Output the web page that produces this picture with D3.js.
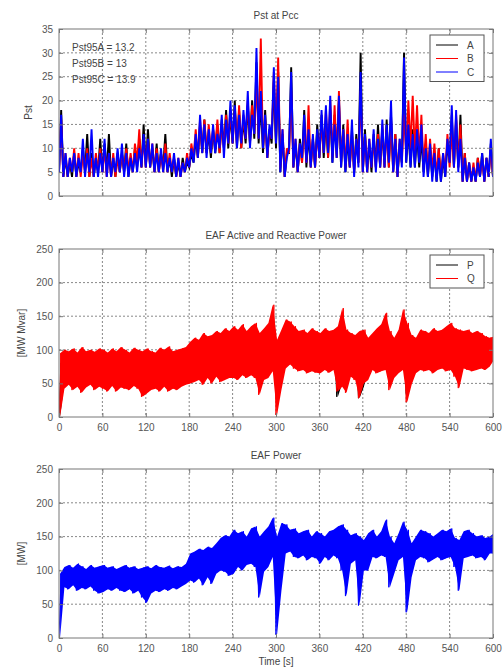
<!DOCTYPE html>
<html>
<head>
<meta charset="utf-8">
<script src="https://cdn.jsdelivr.net/npm/d3@7"></script>
<style>
  body { margin: 0; background: #fff; }
  text { font-family: "Liberation Sans", Arial, sans-serif; fill: #444; }
</style>
</head>
<body>
<svg id="chart" width="503" height="670"></svg>
<script>
// samples every 6 s: low value at t, high value at t + 3 s
const timeStep = 6;
const timeTicks = [0, 60, 120, 180, 240, 300, 360, 420, 480, 540, 600];

// Pst at Pcc, phase A / B / C
const pstAHi = [18,8,7,9,7,10,13,9,8,12, 11,13,8,9,9,11,8,10,12,15, 14,10,11,9,13,8,8,7,8,7,
  9,12,15,16,13,14,15,16,18,17, 20,18,16,19,20,28,20,18,14,24, 26,13,9,27,11,12,18,13,12,15,
  17,16,18,17,20,15,12,14,13,30, 14,11,13,15,14,16,17,13,11,30, 14,14,13,12,11,10,9,10,8,11,
  17,16,17,9,7,6,8,9,8,11, 12];
const pstALo = [5,4,4,4,4,5,5,4,4,5, 5,5,4,4,5,5,4,5,6,6, 6,6,5,5,6,5,4,4,4,5,
  6,7,8,9,9,8,9,9,10,10, 11,10,10,11,11,12,11,9,8,11, 10,5,4,9,6,5,7,6,6,6,
  8,8,8,7,8,6,5,6,5,7, 5,5,5,6,6,6,6,5,4,7, 7,6,6,6,5,4,4,3,3,4,
  7,6,6,3,3,3,3,4,3,4, 4];
const pstBHi = [16,9,8,10,9,9,10,8,9,10, 10,9,9,8,9,10,9,11,14,12, 12,11,10,9,11,9,8,8,7,9,
  11,14,16,16,15,14,16,15,17,18, 18,19,17,20,19,25,33,16,14,26, 29,14,10,22,12,11,15,19,12,13,
  16,18,20,19,22,14,16,13,12,22, 13,12,12,13,15,14,16,13,12,17, 20,21,19,17,13,12,11,10,9,13,
  14,17,15,9,7,7,8,8,8,10, 12];
const pstBLo = [5,4,4,5,4,4,5,4,4,5, 5,4,4,4,5,5,5,5,7,6, 6,6,5,5,5,5,5,4,4,5,
  6,8,8,9,9,9,10,9,10,11, 11,11,10,12,11,13,12,10,8,12, 12,6,4,9,6,5,7,7,6,6,
  8,9,8,8,8,7,6,6,5,7, 5,5,6,6,6,6,6,5,4,7, 9,10,9,8,6,5,5,4,4,5,
  6,6,6,3,3,3,3,4,3,4, 4];
const pstCHi = [17,9,8,9,8,12,9,14,8,9, 12,9,8,10,11,9,8,9,10,13, 12,11,9,10,9,8,9,8,7,8,
  10,13,17,15,14,15,13,17,16,20, 19,17,18,22,17,31,22,17,15,27, 25,14,8,26,12,11,17,14,13,14,
  18,19,21,15,21,14,13,16,12,26, 13,12,14,12,16,15,20,12,12,29, 15,13,14,15,10,11,9,8,9,12,
  19,18,12,8,7,6,7,9,8,12, 13];
const pstCLo = [5,4,4,5,4,5,4,5,4,4, 5,4,4,5,5,4,4,5,5,6, 6,6,5,5,5,5,5,4,4,5,
  6,7,8,9,8,9,9,10,8,11, 11,10,11,12,10,13,12,10,8,12, 11,5,4,10,6,5,8,7,6,6,
  8,9,9,7,8,6,5,6,4,6, 5,5,6,5,6,6,7,5,4,6, 7,6,6,7,4,4,3,3,3,4,
  7,6,5,3,3,3,3,4,3,4, 4];
const pstNotes = ["Pst95A = 13.2", "Pst95B = 13", "Pst95C = 13.9"];

// EAF active (P) and reactive (Q) power
const pHi = [80,85,82,86,80,84,82,85,80,84, 84,82,86,83,85,84,82,86,84,82, 85,83,82,86,84,86,83,84,85,88,
  95,100,98,105,102,105,108,110,112,110, 115,112,118,110,115,120,110,115,118,140, 100,110,118,115,112,110,112,108,112,110,
  110,115,112,115,118,140,112,110,108,110, 112,105,110,115,118,135,110,105,112,138, 120,108,105,112,110,108,115,112,112,115,
  120,115,112,110,112,108,110,108,105,105, 105];
const pLo = [0,52,55,50,54,48,52,55,50,53, 52,50,54,49,53,52,50,54,52,45, 48,50,52,50,54,50,52,50,54,56,
  60,62,65,60,68,62,70,65,68,70, 70,68,72,70,72,70,45,65,70,80, 48,50,90,92,88,85,86,82,85,84,
  82,85,84,86,30,50,45,78,75,28, 45,70,85,82,84,85,55,75,82,85, 35,65,82,85,84,86,82,86,88,85,
  86,75,60,88,86,85,86,88,86,88, 90];
const qHi = [95,100,98,102,96,104,98,100,97,102, 100,96,102,98,104,100,96,103,100,98, 102,98,96,103,100,105,98,100,102,104,
  112,118,115,125,120,122,128,125,132,128, 135,130,138,128,135,140,125,132,140,167, 115,130,145,142,135,128,130,125,132,128,
  125,132,128,130,135,162,130,125,122,128, 130,118,125,132,138,155,128,118,130,160, 140,122,118,130,128,125,132,128,130,135,
  140,132,130,128,130,125,128,125,120,118, 120];
const qLo = [0,42,48,40,45,36,44,48,40,45, 42,38,46,38,44,42,40,46,42,30, 35,40,42,38,45,38,42,40,45,48,
  50,52,55,48,58,50,60,52,55,58, 58,55,62,58,62,58,33,55,58,68, 3,40,72,78,72,68,70,65,68,66,
  65,70,66,70,38,45,36,60,55,28, 50,55,70,65,68,70,40,58,65,70, 22,48,65,70,68,70,65,70,72,68,
  70,60,43,72,70,68,70,72,70,75, 85];

// EAF apparent power
const sHi = [95,105,108,104,110,106,102,108,104,106, 108,104,106,102,105,108,104,106,102,104,
  106,103,108,105,104,107,103,106,105,110, 125,128,132,130,135,133,140,148,152,150,
  160,155,158,150,162,165,150,158,165,178, 150,170,168,160,162,155,158,160,150,158,
  155,150,158,160,165,168,160,152,155,150, 145,155,160,150,158,175,150,140,155,172,
  160,140,150,160,158,155,150,155,160,158, 162,148,145,158,160,155,150,152,148,150, 155];
const sLo = [0,75,72,78,70,74,72,76,70,66, 68,72,70,74,70,68,72,66,70,60,
  52,66,70,68,72,70,74,72,76,80, 85,82,88,78,90,80,95,100,98,92,
  95,105,100,108,110,105,60,98,105,120, 5,70,125,128,120,118,122,115,120,118,
  110,120,115,122,118,100,62,110,115,48, 100,100,120,118,122,120,75,95,115,120,
  38,90,115,120,118,112,116,120,115,118, 120,105,70,118,120,122,118,120,115,125, 125];

const svg = d3.select("#chart");
const left = 59, right = 493;

function zigzag(lo, hi) {
    const pts = [];
    lo.forEach((v, i) => {
        const t = i * timeStep;
        pts.push([t, v]);
        if (t + timeStep / 2 <= 600) pts.push([t + timeStep / 2, hi[i]]);
    });
    return pts;
}

function panel(cfg, idx) {
    const x = d3.scaleLinear().domain([0, 600]).range([left, right]);
    const y = d3.scaleLinear().domain([0, cfg.yMax]).range([cfg.bottom, cfg.top]);
    const yTicks = d3.range(0, cfg.yMax + 0.001, cfg.yStep);
    const g = svg.append("g");

    g.append("clipPath").attr("id", "clip" + idx)
        .append("rect")
        .attr("x", left).attr("y", cfg.top)
        .attr("width", right - left).attr("height", cfg.bottom - cfg.top);

    // dotted grid
    g.append("g").selectAll("line").data(timeTicks.slice(1, -1)).enter().append("line")
        .attr("x1", d => x(d)).attr("x2", d => x(d))
        .attr("y1", cfg.top).attr("y2", cfg.bottom)
        .attr("stroke", "#888").attr("stroke-dasharray", "2,2");
    g.append("g").selectAll("line").data(yTicks.slice(1, -1)).enter().append("line")
        .attr("x1", left).attr("x2", right)
        .attr("y1", d => y(d)).attr("y2", d => y(d))
        .attr("stroke", "#888").attr("stroke-dasharray", "2,2");

    const line = d3.line().x(d => x(d[0])).y(d => y(d[1]));
    const band = d3.area()
        .x((d, i) => x(i * timeStep + timeStep / 4))
        .y0(d => y(d[0])).y1(d => y(d[1]));
    const plot = g.append("g").attr("clip-path", `url(#clip${idx})`);
    // each series: optional solid band between the envelopes, then the raw zigzag
    cfg.series.forEach(s => {
        if (s.fill) {
            plot.append("path")
                .datum(s.lo.map((v, i) => [v, s.hi[i]]))
                .attr("d", band)
                .attr("fill", s.color)
                .attr("stroke", "none");
        }
        plot.append("path")
            .datum(zigzag(s.lo, s.hi))
            .attr("d", line)
            .attr("fill", "none")
            .attr("stroke", s.color)
            .attr("stroke-width", s.width || 1);
    });

    // box and axes
    g.append("rect")
        .attr("x", left).attr("y", cfg.top)
        .attr("width", right - left).attr("height", cfg.bottom - cfg.top)
        .attr("fill", "none").attr("stroke", "#777");

    g.append("g").attr("transform", `translate(${left},0)`)
        .call(d3.axisLeft(y).tickValues(yTicks).tickSize(-4).tickPadding(6));
    g.append("g").attr("transform", `translate(0,${cfg.bottom})`)
        .call(d3.axisBottom(x).tickValues(timeTicks).tickSize(-4).tickPadding(7)
            .tickFormat(cfg.xLabels ? d3.format("d") : ""));
    g.append("g").attr("transform", `translate(${right},0)`)
        .call(d3.axisRight(y).tickValues(yTicks).tickSize(-4).tickFormat(""));
    g.append("g").attr("transform", `translate(0,${cfg.top})`)
        .call(d3.axisTop(x).tickValues(timeTicks).tickSize(-4).tickFormat(""));
    g.selectAll(".domain").remove();
    g.selectAll(".tick line").attr("stroke", "#777");
    g.selectAll(".tick text").attr("font-size", 10).style("fill", "#555");

    g.append("text")
        .attr("x", (left + right) / 2).attr("y", cfg.top - 10)
        .attr("text-anchor", "middle").attr("font-size", 10)
        .text(cfg.title);
    g.append("text")
        .attr("transform", `translate(${cfg.yLabelX},${(cfg.top + cfg.bottom) / 2}) rotate(-90)`)
        .attr("text-anchor", "middle").attr("font-size", 10)
        .text(cfg.yLabel);

    if (cfg.legend) {
        const lg = g.append("g").attr("transform", `translate(430,${cfg.top + 6})`);
        lg.append("rect").attr("width", 54).attr("height", cfg.legend.length * 13.5 + 6)
            .attr("fill", "#fff").attr("stroke", "#555");
        cfg.legend.forEach((e, i) => {
            const ly = 10 + i * 13.5;
            lg.append("line").attr("x1", 6).attr("x2", 28).attr("y1", ly).attr("y2", ly)
                .attr("stroke", e.color);
            lg.append("text").attr("x", 37).attr("y", ly + 3.5).attr("font-size", 10).text(e.label);
        });
    }
    return g;
}

const p1 = panel({
    top: 29, bottom: 196, yMax: 35, yStep: 5, title: "Pst at Pcc", yLabel: "Pst", yLabelX: 32,
    xLabels: false,
    series: [
        { color: "#000", lo: pstALo, hi: pstAHi, width: 1.9 },
        { color: "#ff0000", lo: pstBLo, hi: pstBHi, width: 1.9 },
        { color: "#0000ff", lo: pstCLo, hi: pstCHi, width: 1.9 }
    ],
    legend: [{ label: "A", color: "#000" }, { label: "B", color: "#ff0000" }, { label: "C", color: "#0000ff" }]
}, 1);
p1.selectAll(".note").data(pstNotes).enter().append("text")
    .attr("class", "note")
    .attr("x", 72).attr("y", (d, i) => 51 + i * 16)
    .attr("font-size", 10)
    .text(d => d);

panel({
    top: 249, bottom: 417, yMax: 250, yStep: 50, title: "EAF Active and Reactive Power",
    yLabel: "[MW Mvar]", yLabelX: 25, xLabels: true,
    series: [
        { color: "#000", lo: pLo, hi: pHi, fill: true },
        { color: "#ff0000", lo: qLo, hi: qHi, fill: true }
    ],
    legend: [{ label: "P", color: "#000" }, { label: "Q", color: "#ff0000" }]
}, 2);

panel({
    top: 469, bottom: 638, yMax: 250, yStep: 50, title: "EAF Power",
    yLabel: "[MW]", yLabelX: 25, xLabels: true,
    series: [{ color: "#0000ff", lo: sLo, hi: sHi, fill: true }]
}, 3);

svg.append("text")
    .attr("x", (left + right) / 2).attr("y", 665)
    .attr("text-anchor", "middle").attr("font-size", 10)
    .text("Time [s]");
</script>
</body>
</html>
